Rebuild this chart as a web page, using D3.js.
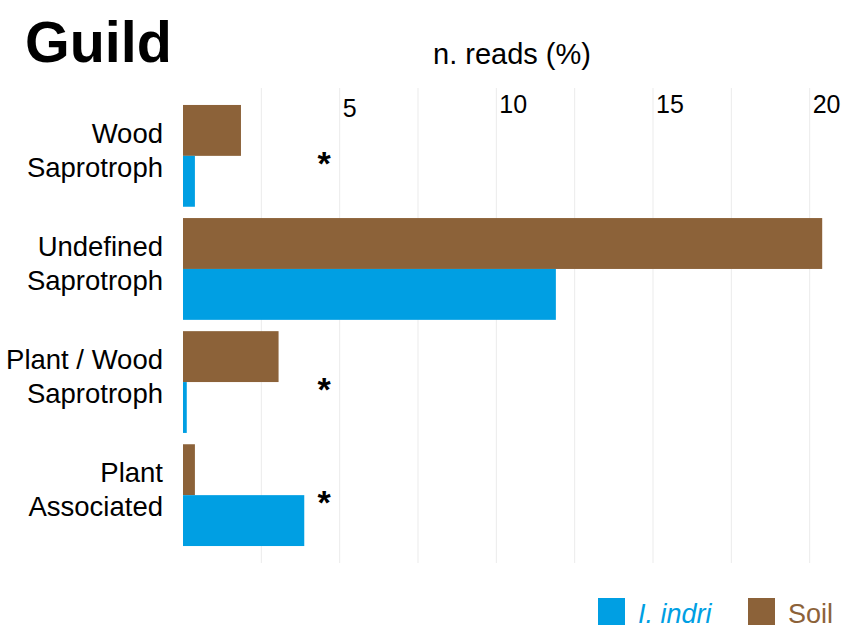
<!DOCTYPE html>
<html>
<head>
<meta charset="utf-8">
<script src="https://cdn.jsdelivr.net/npm/d3@7"></script>
<style>
  body { margin: 0; background: #fff; }
  svg { font-family: "Liberation Sans", Arial, Helvetica, sans-serif; }
</style>
</head>
<body>
<div id="chart"></div>
<script>
// guild categories (label lines) and read percentages
var guilds = ["Wood Saprotroph", "Undefined Saprotroph", "Plant / Wood Saprotroph", "Plant Associated"];
var guildLines = [["Wood", "Saprotroph"], ["Undefined", "Saprotroph"], ["Plant / Wood", "Saprotroph"], ["Plant", "Associated"]];
var soil = [1.85, 20.4, 3.05, 0.38];
var indri = [0.38, 11.9, 0.12, 3.87];
var significant = [true, false, true, true];
var starAt = 4.5;
var xTicks = [5, 10, 15, 20];
var xGrid = [2.5, 5, 7.5, 10, 12.5, 15, 17.5, 20];

var W = 846, H = 629;
var margin = {top: 88, right: 5, bottom: 66, left: 183};
var colors = {indri: "#009FE3", soil: "#8C6239"};

var svg = d3.select("#chart").append("svg")
  .attr("width", W)
  .attr("height", H);

var x = d3.scaleLinear()
  .domain([0, 21])
  .range([margin.left, W - margin.right]);

var y = d3.scaleBand()
  .domain(guilds)
  .range([margin.top, H - margin.bottom])
  .paddingInner(0.1)
  .paddingOuter(0.15);

var sub = d3.scaleBand()
  .domain(["soil", "indri"])
  .range([0, y.bandwidth()]);

// grid lines
svg.append("g").selectAll("line")
  .data(xGrid)
  .enter().append("line")
  .attr("x1", d => x(d)).attr("x2", d => x(d))
  .attr("y1", margin.top).attr("y2", H - margin.bottom)
  .attr("stroke", "#EBEBEB")
  .attr("stroke-width", 1);

// bars
var rows = guilds.map((g, i) => ({guild: g, soil: soil[i], indri: indri[i], sig: significant[i], lines: guildLines[i]}));

var grp = svg.append("g").selectAll("g")
  .data(rows)
  .enter().append("g")
  .attr("transform", d => "translate(0," + y(d.guild) + ")");

grp.selectAll("rect")
  .data(d => [{k: "soil", v: d.soil}, {k: "indri", v: d.indri}])
  .enter().append("rect")
  .attr("x", x(0))
  .attr("y", d => sub(d.k))
  .attr("width", d => x(d.v) - x(0))
  .attr("height", sub.bandwidth())
  .attr("fill", d => colors[d.k]);

// significance stars
grp.filter(d => d.sig).append("text")
  .attr("x", x(starAt))
  .attr("y", y.bandwidth() / 2 + 19)
  .attr("text-anchor", "middle")
  .style("font-size", "34px")
  .style("font-weight", "bold")
  .text("*");

// category labels
grp.append("text")
  .attr("text-anchor", "end")
  .style("font-size", "27.5px")
  .attr("fill", "#000")
  .selectAll("tspan")
  .data(d => d.lines)
  .enter().append("tspan")
  .attr("x", margin.left - 20)
  .attr("y", (d, i) => y.bandwidth() / 2 + (i === 0 ? -13 : 21))
  .text(d => d);

// x tick labels (left aligned at ticks, on top; the single digit sits a bit lower)
svg.append("g").selectAll("text")
  .data(xTicks)
  .enter().append("text")
  .attr("x", d => x(d) + 3)
  .attr("y", d => d < 10 ? 117 : 113)
  .style("font-size", "25px")
  .text(d => d);

// titles
svg.append("text")
  .attr("x", 25).attr("y", 62)
  .style("font-size", "57.5px")
  .style("font-weight", "bold")
  .text("Guild");

svg.append("text")
  .attr("x", (margin.left + W - margin.right) / 2).attr("y", 64)
  .attr("text-anchor", "middle")
  .style("font-size", "29px")
  .text("n. reads (%)");

// legend
var legend = [
  {label: "I. indri", color: colors.indri, italic: true, x: 598},
  {label: "Soil", color: colors.soil, italic: false, x: 748}
];
var lg = svg.append("g").selectAll("g")
  .data(legend)
  .enter().append("g")
  .attr("transform", d => "translate(" + d.x + ",598)");
lg.append("rect")
  .attr("width", 27).attr("height", 27)
  .attr("fill", d => d.color);
lg.append("text")
  .attr("x", 40).attr("y", 25)
  .style("font-size", "27px")
  .style("font-style", d => d.italic ? "italic" : "normal")
  .attr("fill", d => d.color)
  .text(d => d.label);
</script>
</body>
</html>
